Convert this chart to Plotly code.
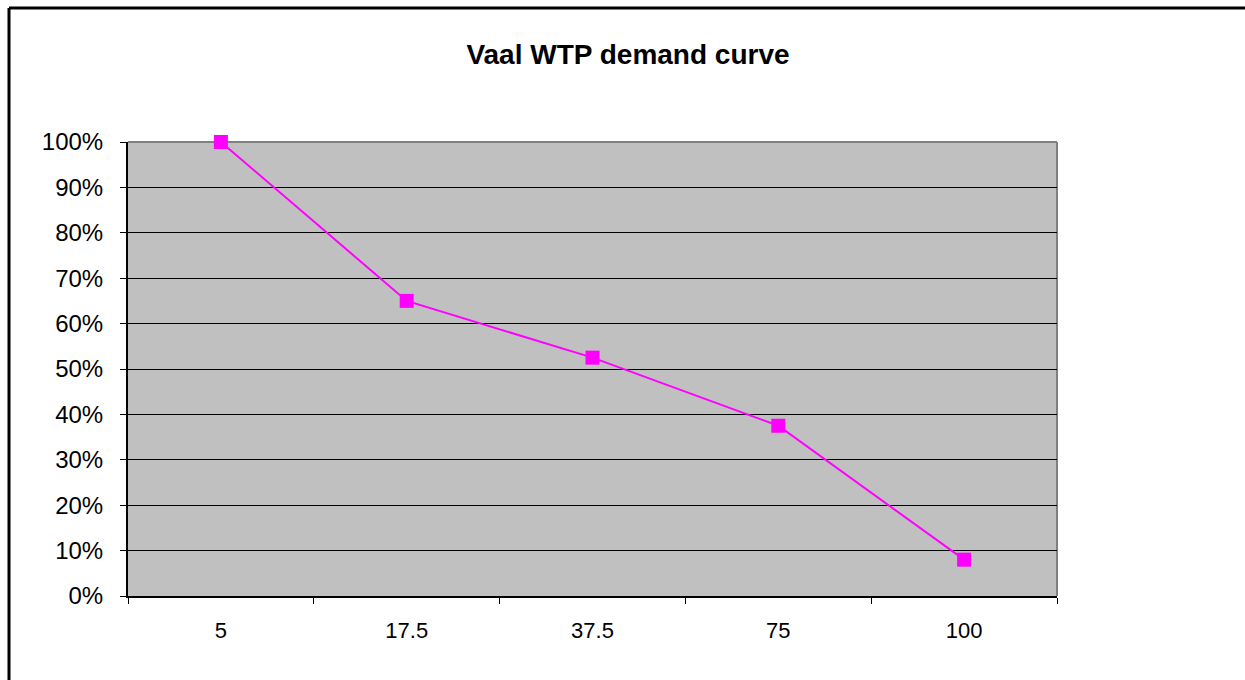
import plotly.graph_objects as go

# Price points (category labels) and share of demand at each price
prices = ["5", "17.5", "37.5", "75", "100"]
demand_share = [1.00, 0.65, 0.525, 0.375, 0.08]
y_ticks = [0.0, 0.1, 0.2, 0.3, 0.4, 0.5, 0.6, 0.7, 0.8, 0.9, 1.0]

W, H = 1245, 680
L, R, T, B = 128, 1057, 142, 596  # plot area edges in pixels

def px_x(p):
    return (p - L) / (R - L)

def px_y(p):
    return (B - p) / (B - T)

fig = go.Figure()
fig.add_trace(go.Scatter(
    x=prices,
    y=demand_share,
    mode="lines+markers",
    line=dict(color="#FF00FF", width=2),
    marker=dict(symbol="square", size=14, color="#FF00FF"),
    showlegend=False,
    cliponaxis=False,
))

font_family = "Liberation Sans, Arial, sans-serif"

fig.update_layout(
    width=W, height=H,
    margin=dict(l=L, r=W - R, t=T, b=H - B, pad=0),
    paper_bgcolor="white",
    plot_bgcolor="#C0C0C0",
    title=dict(
        text="<b>Vaal WTP demand curve</b>",
        x=628 / W, xanchor="center",
        y=1 - 54 / H, yanchor="middle",
        font=dict(family=font_family, size=28, color="black"),
    ),
    font=dict(family=font_family, color="black"),
    xaxis=dict(
        type="category",
        range=[-0.5, 4.5],
        showgrid=False,
        showline=True, linecolor="black", linewidth=2,
        ticks="outside", tickson="boundaries", ticklen=6, tickcolor="black", tickwidth=1,
        tickfont=dict(size=22, family=font_family, color="black"),
        ticklabelstandoff=14,
        zeroline=False,
        fixedrange=True,
    ),
    yaxis=dict(
        range=[0, 1],
        tickvals=y_ticks,
        tickformat=".0%",
        showgrid=True, gridcolor="black", gridwidth=1,
        showline=True, linecolor="black", linewidth=2,
        ticks="outside", ticklen=6, tickcolor="black", tickwidth=1,
        tickfont=dict(size=24, family=font_family, color="black"),
        ticklabelstandoff=12,
        zeroline=False,
        fixedrange=True,
    ),
    shapes=[
        # gray plot-area border on top and right
        dict(type="line", xref="paper", yref="paper", x0=0, x1=1, y0=1, y1=1,
             line=dict(color="#808080", width=2), layer="between"),
        dict(type="line", xref="paper", yref="paper", x0=1, x1=1, y0=0, y1=1,
             line=dict(color="#808080", width=2), layer="between"),
        # chart frame (left and top edges)
        dict(type="line", xref="paper", yref="paper",
             x0=px_x(9), x1=px_x(W + 10), y0=px_y(8), y1=px_y(8),
             line=dict(color="black", width=3), layer="above"),
        dict(type="line", xref="paper", yref="paper",
             x0=px_x(9), x1=px_x(9), y0=px_y(8), y1=px_y(H + 10),
             line=dict(color="black", width=3), layer="above"),
    ],
)

fig.write_html("out.html", config={"displayModeBar": False})
